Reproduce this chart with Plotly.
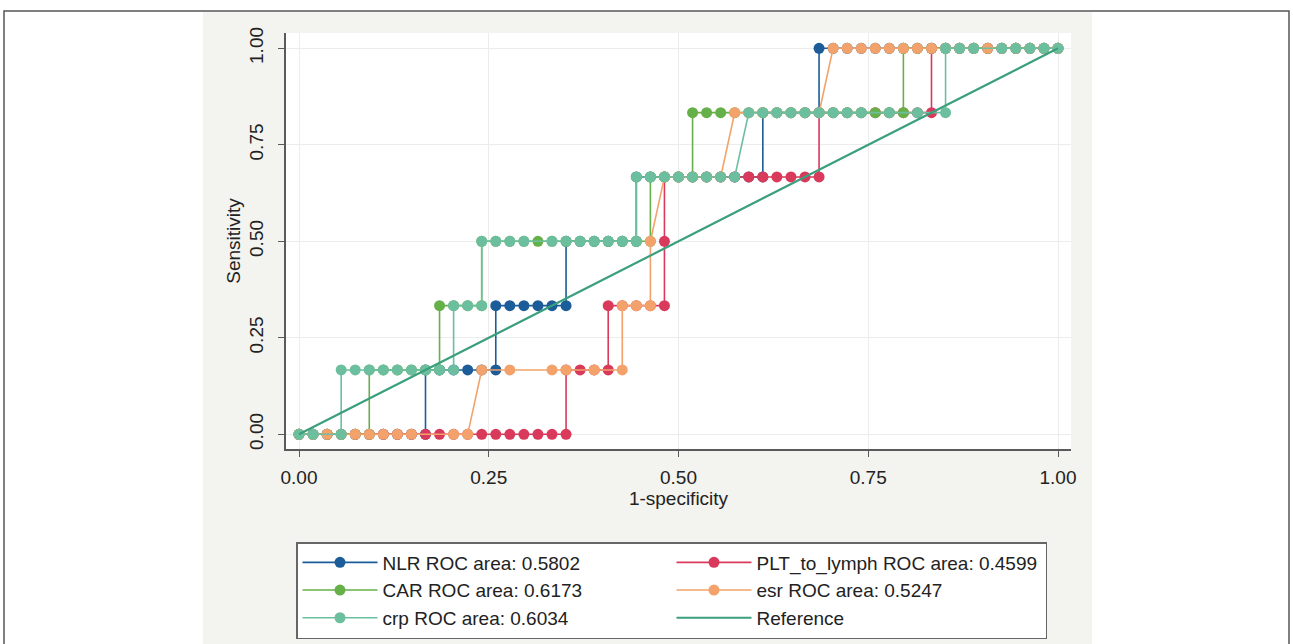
import plotly.graph_objects as go

# ---------------- data (counts: 54 negatives, 6 positives) ----------------
N_NEG = 54
N_POS = 6

series_names = ["NLR ROC area: 0.5802", "PLT_to_lymph ROC area: 0.4599",
                "CAR ROC area: 0.6173", "esr ROC area: 0.5247",
                "crp ROC area: 0.6034"]

nlr_fp = [0, 1, 2, 3, 4, 5, 6, 7, 8, 9,
          9, 10, 11, 12, 13, 14,
          14, 15, 16, 17, 18, 19,
          19, 20, 21, 22, 23, 24,
          24, 25, 26, 27, 28, 29, 30, 31, 32, 33,
          33, 34, 35, 36, 37,
          37, 38, 39, 40, 41, 42, 43, 44, 45, 46, 47, 48, 49, 50, 51, 52, 53, 54]
nlr_tp = [0, 0, 0, 0, 0, 0, 0, 0, 0, 0,
          1, 1, 1, 1, 1, 1,
          2, 2, 2, 2, 2, 2,
          3, 3, 3, 3, 3, 3,
          4, 4, 4, 4, 4, 4, 4, 4, 4, 4,
          5, 5, 5, 5, 5,
          6, 6, 6, 6, 6, 6, 6, 6, 6, 6, 6, 6, 6, 6, 6, 6, 6, 6]

plt_fp = [0, 1, 2, 3, 4, 5, 6, 7, 8, 9, 10, 11, 12, 13, 14, 15, 16, 17, 18, 19,
          19, 20, 21, 22,
          22, 23, 24, 25, 26,
          26,
          26, 27, 28, 29, 30, 31, 32, 33, 34, 35, 36, 37,
          37, 38, 39, 40, 41, 42, 43, 44, 45,
          45, 46, 47, 48, 49, 50, 51, 52, 53, 54]
plt_tp = [0, 0, 0, 0, 0, 0, 0, 0, 0, 0, 0, 0, 0, 0, 0, 0, 0, 0, 0, 0,
          1, 1, 1, 1,
          2, 2, 2, 2, 2,
          3,
          4, 4, 4, 4, 4, 4, 4, 4, 4, 4, 4, 4,
          5, 5, 5, 5, 5, 5, 5, 5, 5,
          6, 6, 6, 6, 6, 6, 6, 6, 6, 6]

car_fp = [0, 1, 2, 3, 4, 5,
          5, 6, 7, 8, 9, 10,
          10, 11, 12, 13,
          13, 14, 15, 16, 17, 18, 19, 20, 21, 22, 23, 24, 25,
          25, 26, 27, 28,
          28, 29, 30, 31, 32, 33, 34, 35, 36, 37, 38, 39, 40, 41, 42, 43,
          43, 44, 45, 46, 47, 48, 49, 50, 51, 52, 53, 54]
car_tp = [0, 0, 0, 0, 0, 0,
          1, 1, 1, 1, 1, 1,
          2, 2, 2, 2,
          3, 3, 3, 3, 3, 3, 3, 3, 3, 3, 3, 3, 3,
          4, 4, 4, 4,
          5, 5, 5, 5, 5, 5, 5, 5, 5, 5, 5, 5, 5, 5, 5, 5,
          6, 6, 6, 6, 6, 6, 6, 6, 6, 6, 6, 6]

esr_fp = [0, 1, 2, 3, 4, 5, 6, 7, 8, 11, 12,
          13, 15, 18, 19, 21, 23,
          23, 24, 25,
          25,
          26, 27, 28, 29, 30,
          31, 32, 33, 34, 35, 36, 37,
          38, 39, 40, 41, 42, 43, 44, 45, 46, 47, 48, 49, 50, 51, 52, 53, 54]
esr_tp = [0, 0, 0, 0, 0, 0, 0, 0, 0, 0, 0,
          1, 1, 1, 1, 1, 1,
          2, 2, 2,
          3,
          4, 4, 4, 4, 4,
          5, 5, 5, 5, 5, 5, 5,
          6, 6, 6, 6, 6, 6, 6, 6, 6, 6, 6, 6, 6, 6, 6, 6, 6]

crp_fp = [0, 1, 3,
          3, 4, 5, 6, 7, 8, 9, 10, 11,
          11, 12, 13,
          13, 14, 15, 16, 18, 19, 20, 21, 22, 23, 24,
          24, 25, 26, 27, 28, 29, 30, 31,
          32, 33, 34, 35, 36, 37, 38, 39, 40, 42, 44, 46,
          46, 47, 48, 50, 51, 52, 53, 54]
crp_tp = [0, 0, 0,
          1, 1, 1, 1, 1, 1, 1, 1, 1,
          2, 2, 2,
          3, 3, 3, 3, 3, 3, 3, 3, 3, 3, 3,
          4, 4, 4, 4, 4, 4, 4, 4,
          5, 5, 5, 5, 5, 5, 5, 5, 5, 5, 5, 5,
          6, 6, 6, 6, 6, 6, 6, 6]

ref_x = [0, 1]
ref_y = [0, 1]

tick_vals = [0, 0.25, 0.5, 0.75, 1]
tick_text = ["0.00", "0.25", "0.50", "0.75", "1.00"]

colors = ["#1c5c99", "#d93a5b", "#66b04a", "#f2a26a", "#6cbf9e"]
ref_color = "#3a9f7d"

FONT = "Liberation Sans, Arial, Helvetica, sans-serif"
FS = 19

# ---------------- figure ----------------
fig = go.Figure()
curves = [(nlr_fp, nlr_tp), (plt_fp, plt_tp), (car_fp, car_tp),
          (esr_fp, esr_tp), (crp_fp, crp_tp)]
for (fp, tp), name, col in zip(curves, series_names, colors):
    fig.add_trace(go.Scatter(
        x=[v / N_NEG for v in fp], y=[v / N_POS for v in tp],
        mode="lines+markers", name=name,
        line=dict(color=col, width=1.6),
        marker=dict(color=col, size=11, line=dict(width=0)),
    ))
fig.add_trace(go.Scatter(x=ref_x, y=ref_y, mode="lines", name="Reference",
                         line=dict(color=ref_color, width=2.2)))

# pixel geometry of the plot area
L, R, T, B = 286, 1071, 33, 449
W, H = 1293, 644
pw, ph = R - L, B - T


def px(xp):
    return (xp - L) / pw


def py(yp):
    return (B - yp) / ph


shapes = [
    # graph region (light grey)
    dict(type="rect", xref="paper", yref="paper", x0=px(203), x1=px(1092),
         y0=py(660), y1=py(12), fillcolor="#f3f3ef", line=dict(width=0), layer="below"),
    # plot region (white)
    dict(type="rect", xref="paper", yref="paper", x0=0, x1=1, y0=0, y1=1,
         fillcolor="#ffffff", line=dict(width=0), layer="below"),
    # page frame
    dict(type="rect", xref="paper", yref="paper", x0=px(4), x1=px(1289),
         y0=py(700), y1=py(11), fillcolor="rgba(0,0,0,0)",
         line=dict(color="#555555", width=1.5), layer="below"),
]

axis_common = dict(
    tickvals=tick_vals, ticktext=tick_text,
    showline=True, linecolor="#5a5a5a", linewidth=1.6,
    ticks="outside", ticklen=6, tickwidth=1.4, tickcolor="#5a5a5a",
    showgrid=True, gridcolor="#ececec", gridwidth=1,
    zeroline=False,
    tickfont=dict(family=FONT, size=FS, color="#222222"),
)

fig.update_layout(
    width=W, height=H,
    margin=dict(l=L, r=W - R, t=T, b=H - B, autoexpand=False),
    paper_bgcolor="#ffffff", plot_bgcolor="#ffffff",
    font=dict(family=FONT, size=FS, color="#222222"),
    xaxis=dict(range=[(L - 299) / 759, (R - 299) / 759],
               title=dict(text="1-specificity", standoff=0,
                          font=dict(family=FONT, size=FS, color="#222222")),
               ticklabelstandoff=4,
               **axis_common),
    yaxis=dict(range=[-(B - 434.3) / 386, 1 + (48.3 - T) / 386],
               tickangle=-90,
               title=dict(text="Sensitivity", standoff=0,
                          font=dict(family=FONT, size=FS, color="#222222")),
               ticklabelstandoff=8,
               **axis_common),
    legend=dict(orientation="h", x=px(296), xanchor="left", y=py(542), yanchor="top",
                itemwidth=75, entrywidth=284, entrywidthmode="pixels",
                bgcolor="#ffffff", bordercolor="#666666", borderwidth=1.5,
                font=dict(family=FONT, size=FS, color="#222222"),
                traceorder="normal"),
    shapes=shapes,
    showlegend=True,
)

fig.write_html("out.html", config={"displayModeBar": False},
               post_script="document.body.style.margin='0';document.body.style.overflow='hidden';")
